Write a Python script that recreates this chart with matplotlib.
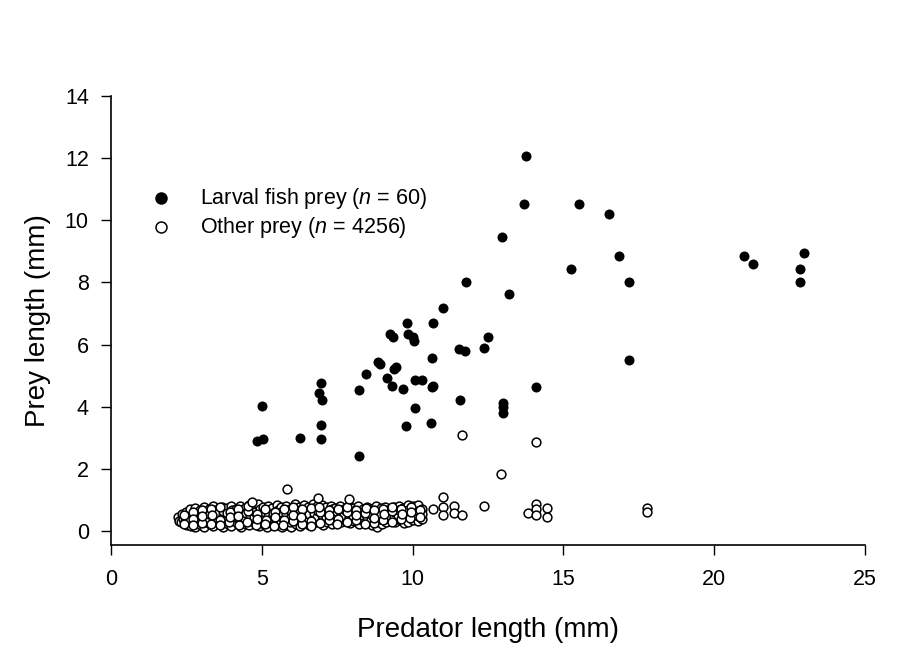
# Prey length vs predator length scatter

import matplotlib
matplotlib.use("Agg")
import matplotlib.pyplot as plt

plt.rcParams['font.family'] = ['Liberation Sans', 'DejaVu Sans']
plt.rcParams['mathtext.fontset'] = 'custom'
plt.rcParams['mathtext.rm'] = 'Liberation Sans'
plt.rcParams['mathtext.it'] = 'Liberation Sans:italic'

# -------------------------------
# Data
# -------------------------------
# larval fish prey (filled)
fish_x = [13.75, 13.69, 15.51, 16.51, 12.95, 16.83, 15.25, 17.16, 13.19, 20.99,
          21.28, 22.98, 22.83, 22.83, 10.63, 11.55, 11.75, 12.37, 12.51, 17.16,
          10.65, 14.09, 11.58, 13.00, 13.00, 13.00, 10.62, 11.01, 9.83, 10.67,
          9.25, 9.36, 9.86, 10.02, 10.06, 8.86, 8.92, 9.38, 9.44, 8.44,
          9.14, 9.33, 9.67, 10.09, 10.30, 8.21, 6.96, 6.91, 7.01, 5.02,
          10.09, 6.95, 9.78, 4.83, 5.04, 6.27, 6.97, 8.21, 11.76, 10.68]
fish_y = [12.08, 10.51, 10.51, 10.19, 9.47, 8.86, 8.43, 8.01, 7.61, 8.84,
          8.60, 8.94, 8.43, 8.01, 5.58, 5.86, 5.78, 5.90, 6.23, 5.51,
          4.63, 4.64, 4.23, 4.13, 4.00, 3.81, 3.49, 7.17, 6.69, 6.70,
          6.33, 6.23, 6.33, 6.23, 6.12, 5.45, 5.38, 5.22, 5.27, 5.06,
          4.92, 4.66, 4.56, 4.86, 4.86, 4.53, 4.75, 4.43, 4.22, 4.02,
          3.97, 3.41, 3.39, 2.90, 2.95, 2.98, 2.96, 2.42, 8.00, 4.66]

# other prey (open) - dense band plus scattered points
other_x = [2.22, 2.26,
           2.35, 2.33, 2.38,
           2.48, 2.52, 2.50, 2.46,
           2.63, 2.67, 2.66, 2.62,
           2.79, 2.82, 2.77, 2.84, 2.80,
           2.94, 2.97, 2.93, 2.98,
           3.09, 3.12, 3.08, 3.13, 3.10,
           3.24, 3.27, 3.23, 3.26,
           3.39, 3.42, 3.38, 3.43, 3.40,
           3.54, 3.57, 3.52, 3.56,
           3.69, 3.72, 3.68, 3.71, 3.73,
           3.84, 3.87, 3.83, 3.86,
           3.99, 4.02, 3.98, 4.03, 4.00,
           4.14, 4.17, 4.13, 4.16,
           4.29, 4.32, 4.28, 4.31, 4.33,
           4.44, 4.47, 4.43, 4.46,
           4.59, 4.62, 4.58, 4.63, 4.60,
           4.74, 4.77, 4.73, 4.76,
           4.89, 4.92, 4.88, 4.91, 4.93,
           5.04, 5.07, 5.03, 5.06,
           5.19, 5.22, 5.18, 5.23, 5.20,
           5.34, 5.37, 5.33, 5.36,
           5.49, 5.52, 5.48, 5.51, 5.53,
           5.64, 5.67, 5.63, 5.66, 5.65,
           5.79, 5.82, 5.78, 5.81,
           5.94, 5.97, 5.93, 5.96, 5.98,
           6.09, 6.12, 6.08, 6.11,
           6.24, 6.27, 6.23, 6.26, 6.28,
           6.39, 6.42, 6.38, 6.41,
           6.54, 6.57, 6.53, 6.56,
           6.69, 6.72, 6.68, 6.71, 6.73,
           6.84, 6.87, 6.83, 6.86,
           6.99, 7.02, 6.98, 7.01, 7.03,
           7.14, 7.17, 7.13, 7.16,
           7.29, 7.32, 7.28, 7.31, 7.33,
           7.44, 7.47, 7.43, 7.46,
           7.59, 7.62, 7.58, 7.61,
           7.74, 7.77, 7.73, 7.76,
           7.89, 7.92, 7.88, 7.91,
           8.04, 8.07, 8.03, 8.06,
           8.19, 8.22, 8.18, 8.21,
           8.34, 8.37, 8.33, 8.36,
           8.49, 8.52, 8.48, 8.51,
           8.64, 8.67, 8.63, 8.66,
           8.79, 8.82, 8.78, 8.81, 8.83,
           8.94, 8.97, 8.93, 8.96,
           9.09, 9.12, 9.08, 9.11,
           9.24, 9.27, 9.23,
           9.39, 9.42, 9.38, 9.41,
           9.54, 9.57, 9.53, 9.56,
           9.69, 9.72, 9.68, 9.71,
           9.86, 9.86, 9.86, 9.86,
           10.02, 10.02, 10.02, 10.02,
           10.17, 10.17, 10.17, 10.17,
           10.30, 10.30, 10.30,
           # second layer, between the columns above
           2.42, 2.43, 2.72, 2.71, 2.73, 3.02, 3.03, 3.01,
           3.33, 3.32, 3.34, 3.62, 3.63, 3.61, 3.93, 3.92, 3.94,
           4.22, 4.23, 4.21, 4.53, 4.52, 4.54, 4.83, 4.82, 4.84,
           5.12, 5.13, 5.11, 5.43, 5.42, 5.44, 5.72, 5.73, 5.71,
           6.03, 6.02, 6.04, 6.32, 6.33, 6.31, 6.63, 6.62, 6.64,
           6.92, 6.93, 6.91, 7.23, 7.22, 7.24, 7.52, 7.53, 7.51,
           7.83, 7.82, 7.84, 8.12, 8.13, 8.11, 8.43, 8.42, 8.44,
           8.72, 8.73, 8.71, 9.03, 9.02, 9.04, 9.32, 9.33, 9.31,
           9.63, 9.62, 9.64, 9.94, 9.93, 9.95, 10.24, 10.25,
           # scattered
           11.00, 10.67, 11.00, 11.00, 11.38, 11.38, 11.65, 12.37, 13.84, 14.08,
           14.08, 14.08, 14.45, 14.45, 17.78, 17.78, 11.65, 14.08, 12.92, 5.82,
           6.87, 7.90, 4.69]
other_y = [0.45, 0.33,
           0.55, 0.28, 0.40,
           0.62, 0.20, 0.42, 0.31,
           0.70, 0.52, 0.15, 0.35,
           0.75, 0.58, 0.12, 0.25, 0.44,
           0.68, 0.20, 0.38, 0.52,
           0.78, 0.60, 0.14, 0.30, 0.46,
           0.72, 0.22, 0.40, 0.55,
           0.80, 0.62, 0.16, 0.33, 0.48,
           0.70, 0.25, 0.42, 0.57,
           0.78, 0.12, 0.30, 0.50, 0.64,
           0.74, 0.22, 0.40, 0.58,
           0.82, 0.66, 0.16, 0.34, 0.50,
           0.72, 0.26, 0.44, 0.60,
           0.80, 0.14, 0.32, 0.52, 0.66,
           0.75, 0.22, 0.40, 0.58,
           0.84, 0.68, 0.18, 0.35, 0.50,
           0.76, 0.26, 0.44, 0.62,
           0.86, 0.15, 0.32, 0.52, 0.70,
           0.78, 0.22, 0.40, 0.60,
           0.82, 0.66, 0.14, 0.30, 0.48,
           0.74, 0.24, 0.42, 0.58,
           0.85, 0.18, 0.34, 0.52, 0.68,
           0.76, 0.12, 0.28, 0.45, 0.62,
           0.82, 0.20, 0.38, 0.55,
           0.72, 0.14, 0.30, 0.48, 0.64,
           0.86, 0.24, 0.42, 0.60,
           0.78, 0.16, 0.34, 0.52, 0.68,
           0.84, 0.26, 0.44, 0.62,
           0.76, 0.18, 0.36, 0.54,
           0.88, 0.70, 0.22, 0.40, 0.58,
           0.80, 0.28, 0.46, 0.64,
           0.84, 0.20, 0.36, 0.52, 0.68,
           0.76, 0.30, 0.46, 0.62,
           0.82, 0.24, 0.40, 0.56, 0.70,
           0.74, 0.34, 0.50, 0.64,
           0.80, 0.28, 0.44, 0.60,
           0.72, 0.36, 0.52, 0.66,
           0.82, 0.26, 0.42, 0.58,
           0.74, 0.32, 0.48, 0.64,
           0.80, 0.24, 0.40, 0.56,
           0.70, 0.34, 0.50, 0.62,
           0.78, 0.28, 0.44, 0.58,
           0.72, 0.20, 0.36, 0.52,
           0.80, 0.14, 0.30, 0.46, 0.62,
           0.74, 0.22, 0.38, 0.56,
           0.78, 0.30, 0.46, 0.62,
           0.70, 0.36, 0.52,
           0.76, 0.28, 0.44, 0.60,
           0.82, 0.34, 0.50, 0.66,
           0.74, 0.26, 0.42, 0.58,
           0.84, 0.30, 0.48, 0.66,
           0.80, 0.36, 0.54, 0.70,
           0.84, 0.32, 0.48, 0.64,
           0.72, 0.40, 0.56,
           # second layer
           0.50, 0.24, 0.60, 0.38, 0.20, 0.66, 0.26, 0.48,
           0.70, 0.24, 0.52, 0.76, 0.34, 0.18, 0.62, 0.28, 0.44,
           0.70, 0.18, 0.48, 0.64, 0.30, 0.80, 0.56, 0.20, 0.40,
           0.72, 0.36, 0.22, 0.62, 0.16, 0.46, 0.70, 0.36, 0.20,
           0.78, 0.32, 0.50, 0.70, 0.22, 0.46, 0.74, 0.32, 0.16,
           0.60, 0.26, 0.76, 0.66, 0.34, 0.50, 0.70, 0.38, 0.22,
           0.62, 0.30, 0.76, 0.68, 0.36, 0.52, 0.58, 0.24, 0.74,
           0.66, 0.26, 0.42, 0.70, 0.36, 0.54, 0.64, 0.30, 0.76,
           0.70, 0.38, 0.54, 0.76, 0.42, 0.60, 0.68, 0.44,
           # scattered
           1.08, 0.70, 0.78, 0.51, 0.81, 0.59, 0.51, 0.79, 0.57, 0.87,
           0.70, 0.51, 0.75, 0.44, 0.75, 0.62, 3.09, 2.87, 1.83, 1.35,
           1.07, 1.03, 0.94]

x_ticks = [0, 5, 10, 15, 20, 25]
y_ticks = [0, 2, 4, 6, 8, 10, 12, 14]

# -------------------------------
# Plot
# -------------------------------
fig = plt.figure(figsize=(9.04, 6.48), dpi=100)
ax = fig.add_axes([0.1228, 0.159, 0.834, 0.693])

ax.scatter(other_x, other_y, s=40, facecolor='white', edgecolor='black',
           linewidths=1.1, label='Other prey ($n$ = 4256)', zorder=2)
ax.scatter(fish_x, fish_y, s=52, color='black', linewidths=0,
           label='Larval fish prey ($n$ = 60)', zorder=3)

ax.set_xlim(0, 25)
ax.set_ylim(-0.45, 14)
ax.set_xticks(x_ticks)
ax.set_yticks(y_ticks)
ax.tick_params(direction='out', length=7, width=1, labelsize=15.5, pad=9)
ax.tick_params(axis='x', pad=10)

for side in ['top', 'right']:
    ax.spines[side].set_visible(False)
for side in ['left', 'bottom']:
    ax.spines[side].set_linewidth(1.2)

ax.set_xlabel("Predator length (mm)", fontsize=20, labelpad=20)
ax.set_ylabel("Prey length (mm)", fontsize=20, labelpad=10)

handles, labels = ax.get_legend_handles_labels()
ax.legend(handles[::-1], labels[::-1], loc='upper left',
          bbox_to_anchor=(0.052, 0.80), frameon=False, fontsize=15.5,
          handlelength=1.0, handletextpad=1.3, labelspacing=0.2,
          borderpad=0, borderaxespad=0, markerscale=1.25)

fig.savefig("out.png", dpi=100)
